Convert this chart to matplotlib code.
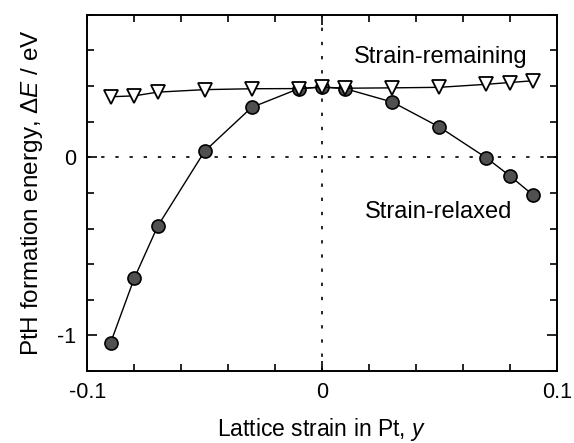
import matplotlib
matplotlib.use("Agg")
import matplotlib.pyplot as plt
from matplotlib.ticker import MultipleLocator, FixedLocator

plt.rcParams['font.family'] = ['Liberation Sans', 'DejaVu Sans']
plt.rcParams['mathtext.fontset'] = 'custom'
plt.rcParams['mathtext.rm'] = 'Liberation Sans'
plt.rcParams['mathtext.it'] = 'Liberation Sans:italic'

strain = [-0.09, -0.08, -0.07, -0.05, -0.03, -0.01, 0.0, 0.01, 0.03, 0.05, 0.07, 0.08, 0.09]
relaxed = [-1.04, -0.68, -0.387, 0.034, 0.28, 0.385, 0.395, 0.385, 0.31, 0.17, -0.003, -0.104, -0.213]
remaining = [0.34, 0.345, 0.366, 0.38, 0.385, 0.386, 0.394, 0.388, 0.39, 0.393, 0.41, 0.42, 0.43]

xtick_labels = {-0.1: '-0.1', 0.0: '0', 0.1: '0.1'}
ytick_labels = {0.0: '0', -1.0: '-1'}

fig = plt.figure(figsize=(5.74, 4.43), dpi=100)
ax = fig.add_axes([0.152, 0.1625, 0.818, 0.804])

ax.axhline(0, color='black', lw=1.2, linestyle=(0, (2, 6.5)), zorder=1)
ax.axvline(0, color='black', lw=1.2, linestyle=(0, (2, 6.5)), zorder=1)

ax.plot(strain, relaxed, '-o', color='black', lw=1.0, ms=9.4,
        mfc='#505050', mec='black', mew=1.2, zorder=3)
ax.plot(strain, remaining, '-v', color='black', lw=1.0, ms=10.5,
        mfc='white', mec='black', mew=1.3, zorder=4)

ax.text(0.0505, 0.565, 'Strain-remaining', fontsize=17, ha='center', va='center')
ax.text(0.0495, -0.305, 'Strain-relaxed', fontsize=17, ha='center', va='center')

ax.set_xlim(-0.1, 0.1)
ax.set_ylim(-1.2, 0.8)

ax.xaxis.set_major_locator(FixedLocator(list(xtick_labels.keys())))
ax.set_xticklabels(list(xtick_labels.values()))
ax.xaxis.set_minor_locator(MultipleLocator(0.02))
ax.yaxis.set_major_locator(FixedLocator(list(ytick_labels.keys())))
ax.set_yticklabels(list(ytick_labels.values()))
ax.yaxis.set_minor_locator(MultipleLocator(0.2))

ax.tick_params(which='both', direction='in', top=True, right=True, width=1.2,
               labelsize=15.5)
ax.tick_params(which='major', length=7, pad=8)
ax.tick_params(which='minor', length=5)

for s in ax.spines.values():
    s.set_linewidth(1.4)

ax.set_xlabel('Lattice strain in Pt, $y$', fontsize=16.5, labelpad=9)
ax.set_ylabel('PtH formation energy, $\\Delta E$ / eV', fontsize=17.5, labelpad=9)

fig.savefig('out.png', dpi=100)
